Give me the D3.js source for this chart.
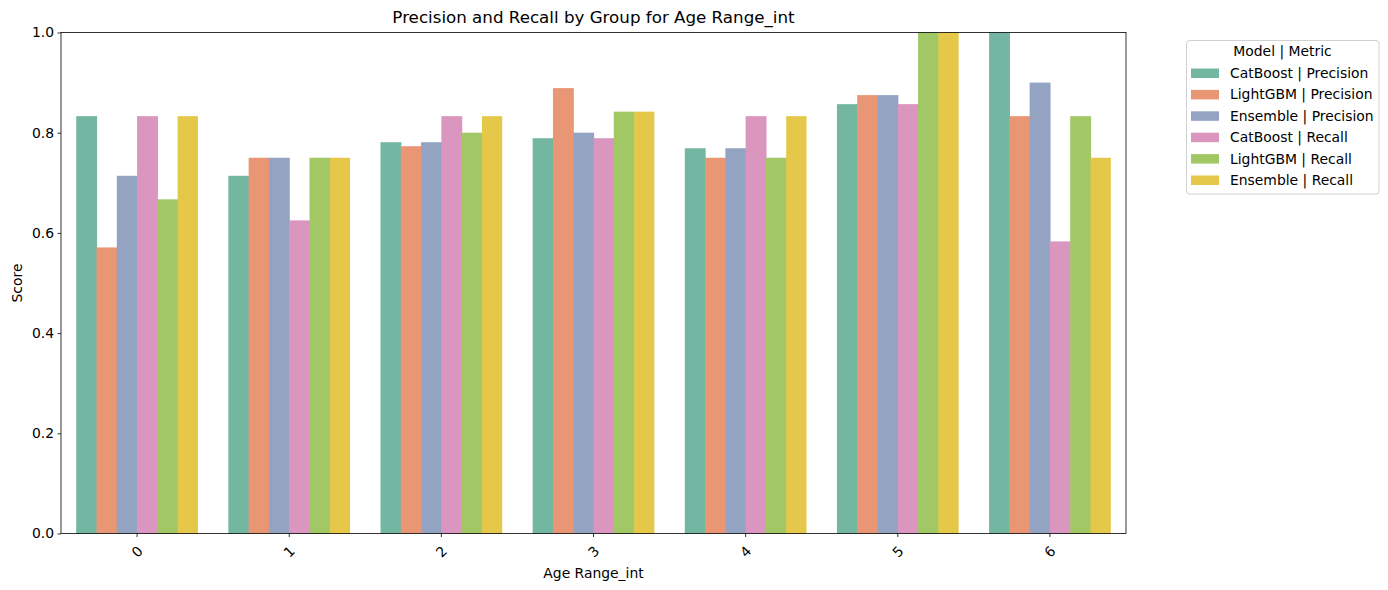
<!DOCTYPE html>
<html>
<head>
<meta charset="utf-8">
<script src="https://cdn.jsdelivr.net/npm/d3@7"></script>
<style>
  body { margin: 0; background: #fff; }
  svg { font-family: "DejaVu Sans", sans-serif; }
</style>
</head>
<body>
<svg id="chart" width="1388" height="590"></svg>
<script>
const groups = ["0", "1", "2", "3", "4", "5", "6"];
const seriesNames = ["CatBoost | Precision", "LightGBM | Precision", "Ensemble | Precision",
                     "CatBoost | Recall", "LightGBM | Recall", "Ensemble | Recall"];
const catboostPrecision = [0.833, 0.714, 0.781, 0.789, 0.769, 0.857, 1.0];
const lightgbmPrecision = [0.571, 0.75, 0.773, 0.889, 0.75, 0.875, 0.833];
const ensemblePrecision = [0.714, 0.75, 0.781, 0.8, 0.769, 0.875, 0.9];
const catboostRecall    = [0.833, 0.625, 0.833, 0.789, 0.833, 0.857, 0.583];
const lightgbmRecall    = [0.667, 0.75, 0.8, 0.842, 0.75, 1.0, 0.833];
const ensembleRecall    = [0.833, 0.75, 0.833, 0.842, 0.833, 1.0, 0.75];
const yTicks = [0.0, 0.2, 0.4, 0.6, 0.8, 1.0];
const colors = ["#73b6a1", "#e99675", "#95a3c3", "#db96c0", "#a2c865", "#e5c849"];

const seriesValues = [catboostPrecision, lightgbmPrecision, ensemblePrecision,
                      catboostRecall, lightgbmRecall, ensembleRecall];

const svg = d3.select("#chart");
const m = {left: 61, right: 1126, top: 32.5, bottom: 533.5};

const x = d3.scaleBand().domain(groups).range([m.left, m.right]).paddingInner(0.2).paddingOuter(0.1);
const xs = d3.scaleBand().domain(seriesNames).range([0, x.bandwidth()]);
const y = d3.scaleLinear().domain([0, 1]).range([m.bottom, m.top]);

// bars
seriesNames.forEach((s, si) => {
  svg.append("g").selectAll("rect").data(groups).join("rect")
    .attr("x", g => x(g) + xs(s))
    .attr("y", (g, i) => y(seriesValues[si][i]))
    .attr("width", xs.bandwidth() + (si < seriesNames.length - 1 ? 0.6 : 0))
    .attr("height", (g, i) => y(0) - y(seriesValues[si][i]))
    .attr("fill", colors[si]);
});

// axes
const yAxis = d3.axisLeft(y).tickValues(yTicks).tickFormat(d3.format(".1f")).tickSize(3.5).tickPadding(3.5);
const gy = svg.append("g").attr("transform", `translate(${m.left},0)`).call(yAxis);
gy.select(".domain").remove();
gy.selectAll("text").attr("font-size", "13.9px").attr("fill", "#000").attr("font-family", "DejaVu Sans");
gy.selectAll("line").attr("stroke", "#000").attr("stroke-width", 0.8);

const xAxis = d3.axisBottom(x).tickSize(3.5).tickPadding(3.5);
const gx = svg.append("g").attr("transform", `translate(0,${m.bottom})`).call(xAxis);
gx.select(".domain").remove();
gx.selectAll("line").attr("stroke", "#000").attr("stroke-width", 0.8);
gx.selectAll("text")
  .attr("font-size", "13.9px").attr("fill", "#000").attr("font-family", "DejaVu Sans")
  .attr("text-anchor", "middle").attr("dy", null).attr("y", null)
  .attr("transform", "translate(0,18) rotate(-45)")
  .attr("dominant-baseline", "central");

// frame
svg.append("rect").attr("x", m.left).attr("y", m.top)
  .attr("width", m.right - m.left).attr("height", m.bottom - m.top)
  .attr("fill", "none").attr("stroke", "#000").attr("stroke-width", 0.8);

// title and labels
svg.append("text").attr("x", (m.left + m.right) / 2).attr("y", 23)
  .attr("text-anchor", "middle").attr("font-size", "16.7px").text("Precision and Recall by Group for Age Range_int");
svg.append("text").attr("x", (m.left + m.right) / 2).attr("y", 578)
  .attr("text-anchor", "middle").attr("font-size", "13.9px").text("Age Range_int");
svg.append("text").attr("transform", `translate(22,${(m.top + m.bottom) / 2}) rotate(-90)`)
  .attr("text-anchor", "middle").attr("font-size", "13.9px").text("Score");

// legend
const lg = svg.append("g");
lg.append("rect").attr("x", 1186.5).attr("y", 40.5).attr("width", 192.5).attr("height", 153.5)
  .attr("rx", 3).attr("fill", "#fff").attr("stroke", "#d0d0d0").attr("stroke-width", 1);
lg.append("text").attr("x", 1282.5).attr("y", 56).attr("text-anchor", "middle")
  .attr("font-size", "13.9px").text("Model | Metric");
seriesNames.forEach((s, i) => {
  const cy = 73 + i * 21.4;
  lg.append("rect").attr("x", 1191).attr("y", cy - 4.5).attr("width", 28).attr("height", 9.5).attr("fill", colors[i]);
  lg.append("text").attr("x", 1230).attr("y", cy).attr("dominant-baseline", "central")
    .attr("font-size", "13.9px").text(s);
});
</script>
</body>
</html>
